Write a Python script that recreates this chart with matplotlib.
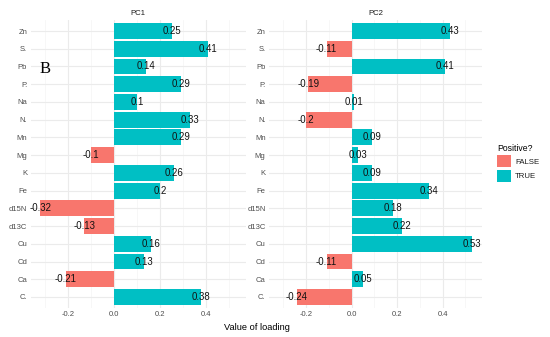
import matplotlib
matplotlib.use("Agg")
import matplotlib.pyplot as plt
from matplotlib.patches import Patch

plt.rcParams["font.family"] = ["Liberation Sans", "DejaVu Sans"]

categories = ["Zn", "S.", "Pb", "P.", "Na", "N.", "Mn", "Mg", "K", "Fe",
              "d15N", "d13C", "Cu", "Cd", "Ca", "C."]
pc1 = [0.25, 0.41, 0.14, 0.29, 0.1, 0.33, 0.29, -0.1, 0.26, 0.2,
       -0.32, -0.13, 0.16, 0.13, -0.21, 0.38]
pc2 = [0.43, -0.11, 0.41, -0.19, 0.01, -0.2, 0.09, 0.03, 0.09, 0.34,
       0.18, 0.22, 0.53, -0.11, 0.05, -0.24]
panels = ["PC1", "PC2"]
xticks = [-0.2, 0.0, 0.2, 0.4]

POS = "#00BFC4"
NEG = "#F8766D"
W, H = 550, 337
fig = plt.figure(figsize=(W / 100, H / 100), dpi=100)

allv = pc1 + pc2
lo, hi = min(allv), max(allv)
pad = (hi - lo) * 0.05
xlim = (lo - pad, hi + pad)

n = len(categories)
ypos = list(range(n))
bottom = 1 - 307.6 / H
top = 1 - 20.4 / H
axes_px = [(30.6, 245.7), (269, 482)]

for (x0, x1), name, vals in zip(axes_px, panels, [pc1, pc2]):
    ax = fig.add_axes([x0 / W, bottom, (x1 - x0) / W, top - bottom])
    colors = [POS if v > 0 else NEG for v in vals]
    ax.barh(ypos, vals, height=0.9, color=colors, zorder=2)
    for y, v in zip(ypos, vals):
        ax.text(v, y, f"{v:g}", ha="center", va="center", fontsize=6.9,
                color="#111111", zorder=3)
    ax.set_xlim(*xlim)
    ax.set_ylim(n - 0.4, -0.6)
    ax.set_yticks(ypos)
    ax.set_yticklabels(categories)
    ax.set_xticks(xticks)
    ax.set_xticklabels([f"{t:.1f}" for t in xticks])
    ax.set_xticks([-0.3, -0.1, 0.1, 0.3, 0.5], minor=True)
    ax.grid(True, which="major", color="#EBEBEB", linewidth=0.8, zorder=0)
    ax.grid(True, which="minor", axis="x", color="#F4F4F4", linewidth=0.5, zorder=0)
    ax.tick_params(axis="both", which="both", length=0, labelsize=5.5,
                   labelcolor="#4D4D4D", pad=2.5)
    for s in ax.spines.values():
        s.set_visible(False)
    ax.set_title(name, fontsize=5.6, color="#1A1A1A", pad=4)

fig.text(257 / W, 1 - 327 / H, "Value of loading", ha="center", va="center",
         fontsize=6.7, color="black")
fig.text(45 / W, 1 - 69 / H, "B", ha="center", va="center", fontsize=12,
         family="Liberation Serif", color="black")

handles = [Patch(facecolor=NEG, label="FALSE"), Patch(facecolor=POS, label="TRUE")]
leg = fig.legend(handles=handles, title="Positive?", loc="upper left",
                 bbox_to_anchor=(490 / W, 1 - 137 / H), frameon=False,
                 fontsize=5.6, title_fontsize=6.2, handlelength=1.8,
                 handleheight=2.0, labelspacing=0.3, handletextpad=0.5,
                 alignment="left")
for t in leg.get_texts():
    t.set_color("#1A1A1A")

fig.savefig("out.png", dpi=100)
